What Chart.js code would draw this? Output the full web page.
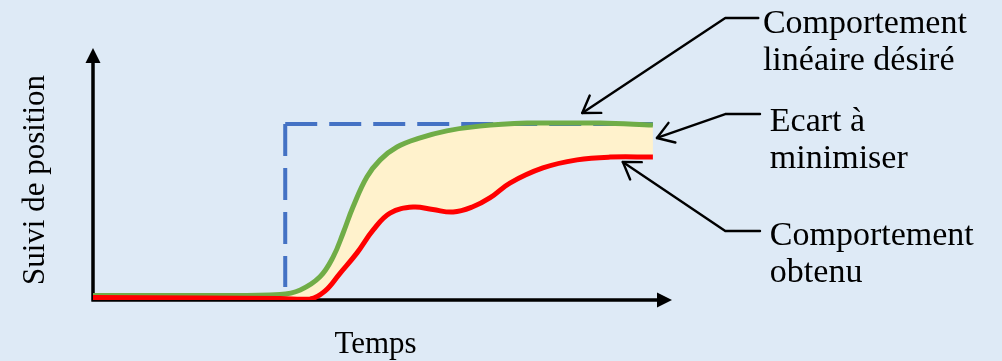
<!DOCTYPE html>
<html lang="fr">
<head>
<meta charset="UTF-8" />
<title>Suivi de position</title>
<script src="https://cdn.jsdelivr.net/npm/chart.js"></script>
<style>
  html, body { margin: 0; padding: 0; background: #deeaf6; }
  #wrap { width: 1002px; height: 361px; position: relative; }
</style>
</head>
<body>
<div id="wrap"><canvas id="chart"></canvas></div>
<script>
// courbe désirée (verte)
const greenX = [0, 18.5, 32.3, 35.8, 39.2, 41.5, 43.2, 44.9, 47.3, 49.6, 52.5, 56.5, 61.1, 66.8, 75.0, 80.7, 87.6, 96.7];
const greenY = [1.8, 1.8, 2.2, 4.0, 9.2, 17.2, 26.6, 36.9, 48.8, 55.6, 60.7, 64.3, 67.1, 69.0, 70.2, 70.2, 70.2, 69.4];
// courbe obtenue (rouge)
const redX = [0, 18.5, 32.3, 37.5, 40.0, 42.7, 45.6, 48.4, 51.3, 55.3, 58.7, 62.2, 65.6, 68.6, 72.0, 77.7, 83.6, 89.3, 96.7];
const redY = [1.0, 0.8, 0.6, 0.4, 3.4, 10.7, 18.7, 27.8, 34.5, 36.9, 35.9, 34.9, 37.0, 40.6, 46.4, 52.4, 55.6, 56.7, 56.7];
// consigne en échelon (pointillés bleus)
const stepX = [33.2, 33.2, 96.7];
const stepY = [5.2, 69.8, 69.8];

const xLabel = 'Temps';
const yLabel = 'Suivi de position';

// annotations : pointe de flèche, coude, position du texte (unités des axes)
const notes = [
  { lines: ['Comportement', 'linéaire désiré'], tip: [84.5, 74.2], elbow: [109.2, 111.9], end: 114.9, text: [115.7, 106.0] },
  { lines: ['Ecart à', 'minimiser'], tip: [97.4, 64.3], elbow: [109.2, 73.8], end: 115.2, text: [116.9, 67.1] },
  { lines: ['Comportement', 'obtenu'], tip: [91.5, 54.8], elbow: [109.2, 27.4], end: 115.2, text: [116.9, 21.8] }
];

const pts = (xs, ys) => xs.map((x, i) => ({ x: x, y: ys[i] }));

const schema = {
  id: 'schema',
  beforeDatasetsDraw(chart) {
    const ctx = chart.ctx;
    const a = chart.chartArea;
    ctx.save();
    ctx.strokeStyle = '#000';
    ctx.fillStyle = '#000';
    ctx.lineWidth = 3.5;
    ctx.beginPath();
    ctx.moveTo(a.left, a.bottom + 1.5);
    ctx.lineTo(a.left, a.top + 12);
    ctx.moveTo(a.left - 1.5, a.bottom);
    ctx.lineTo(a.right - 12, a.bottom);
    ctx.stroke();
    ctx.beginPath();
    ctx.moveTo(a.left, a.top);
    ctx.lineTo(a.left - 7.5, a.top + 15);
    ctx.lineTo(a.left + 7.5, a.top + 15);
    ctx.closePath();
    ctx.fill();
    ctx.beginPath();
    ctx.moveTo(a.right, a.bottom);
    ctx.lineTo(a.right - 15, a.bottom - 7.5);
    ctx.lineTo(a.right - 15, a.bottom + 7.5);
    ctx.closePath();
    ctx.fill();

    ctx.font = '31px "Liberation Serif", serif';
    ctx.textAlign = 'center';
    ctx.textBaseline = 'alphabetic';
    ctx.fillText(xLabel, (a.left + a.right) / 2 - 7, a.bottom + 53);
    ctx.translate(a.left - 49, (a.top + a.bottom) / 2 + 6);
    ctx.rotate(-Math.PI / 2);
    ctx.fillText(yLabel, 0, 0);
    ctx.restore();
  },
  afterDatasetsDraw(chart) {
    const ctx = chart.ctx;
    const sx = chart.scales.x, sy = chart.scales.y;
    ctx.save();
    ctx.strokeStyle = '#000';
    ctx.fillStyle = '#000';
    ctx.lineWidth = 2.4;
    ctx.lineCap = 'round';
    ctx.lineJoin = 'round';
    ctx.font = '34px "Liberation Serif", serif';
    ctx.textAlign = 'left';
    ctx.textBaseline = 'alphabetic';
    notes.forEach(n => {
      const tx = sx.getPixelForValue(n.tip[0]), ty = sy.getPixelForValue(n.tip[1]);
      const ex = sx.getPixelForValue(n.elbow[0]), ey = sy.getPixelForValue(n.elbow[1]);
      const hx = sx.getPixelForValue(n.end);
      ctx.beginPath();
      ctx.moveTo(hx, ey);
      ctx.lineTo(ex, ey);
      ctx.lineTo(tx, ty);
      ctx.stroke();
      const ang = Math.atan2(ey - ty, ex - tx);
      const len = 19, spread = 0.58;
      ctx.beginPath();
      ctx.moveTo(tx + len * Math.cos(ang - spread), ty + len * Math.sin(ang - spread));
      ctx.lineTo(tx, ty);
      ctx.lineTo(tx + len * Math.cos(ang + spread), ty + len * Math.sin(ang + spread));
      ctx.stroke();
      const lx = sx.getPixelForValue(n.text[0]);
      const ly = sy.getPixelForValue(n.text[1]);
      n.lines.forEach((t, i) => ctx.fillText(t, lx, ly + i * 37));
    });
    ctx.restore();
  }
};

new Chart(document.getElementById('chart'), {
  type: 'line',
  data: {
    datasets: [
      {
        label: 'Comportement obtenu',
        data: pts(redX, redY),
        borderColor: '#ff0000',
        borderWidth: 5,
        pointRadius: 0,
        tension: 0.4,
        fill: false
      },
      {
        label: 'Comportement linéaire désiré',
        data: pts(greenX, greenY),
        borderColor: '#70ad47',
        backgroundColor: '#fff2cc',
        borderWidth: 5,
        pointRadius: 0,
        tension: 0.4,
        fill: { target: 0 }
      },
      {
        label: 'Consigne',
        data: [1, 2].map(i => ({ x: stepX[i], y: stepY[i] })),
        borderColor: '#4472c4',
        borderWidth: 4,
        borderDash: [32, 12],
        pointRadius: 0,
        tension: 0,
        fill: false
      },
      {
        label: 'Consigne (montée)',
        data: [1, 0].map(i => ({ x: stepX[i], y: stepY[i] })),
        borderColor: '#4472c4',
        borderWidth: 4,
        borderDash: [32, 12],
        pointRadius: 0,
        tension: 0,
        fill: false
      }
    ]
  },
  options: {
    responsive: true,
    maintainAspectRatio: false,
    animation: false,
    events: [],
    layout: { padding: { left: 93, right: 330, top: 48, bottom: 61 } },
    scales: {
      x: { type: 'linear', min: 0, max: 100, display: false },
      y: { type: 'linear', min: 0, max: 100, display: false }
    },
    plugins: {
      legend: { display: false },
      tooltip: { enabled: false },
      filler: { drawTime: 'beforeDatasetsDraw' }
    }
  },
  plugins: [schema]
});
</script>
</body>
</html>
